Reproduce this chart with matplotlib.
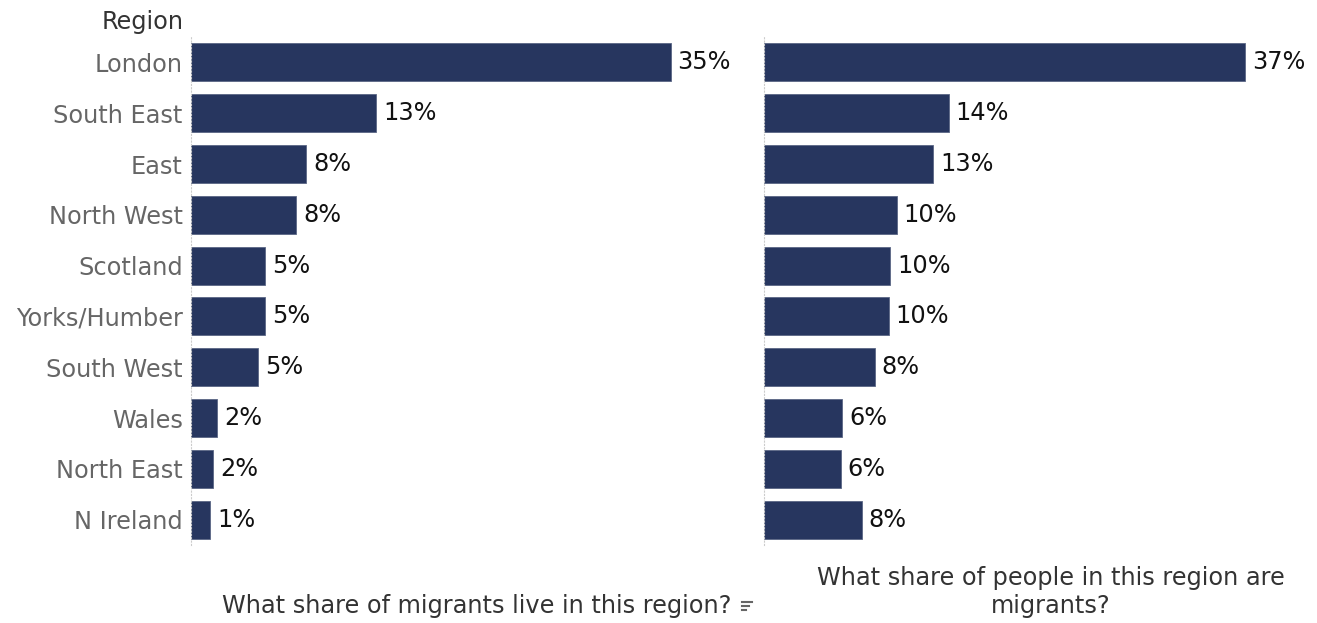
import numpy as np
import matplotlib
matplotlib.use("Agg")
import matplotlib.pyplot as plt
from matplotlib.lines import Line2D

# ----------------------------------------------------------------------
# data
# ----------------------------------------------------------------------
regions = ["London", "South East", "East", "North West", "Scotland",
           "Yorks/Humber", "South West", "Wales", "North East", "N Ireland"]
share_of_migrants = [35.0, 13.5, 8.4, 7.7, 5.4, 5.4, 4.9, 1.9, 1.6, 1.4]
share_label_left = ["35%", "13%", "8%", "8%", "5%", "5%", "5%", "2%", "2%", "1%"]
migrants_in_region = [37.0, 14.2, 13.0, 10.2, 9.7, 9.6, 8.5, 6.0, 5.9, 7.5]
share_label_right = ["37%", "14%", "13%", "10%", "10%", "10%", "8%", "6%", "6%", "8%"]

BAR = "#27365f"
W, H = 1317, 623
FS = 17.3

fig = plt.figure(figsize=(W / 100, H / 100), dpi=100)
plt.rcParams['font.family'] = ['DejaVu Sans']

def px_axes(x0, x1, y0, y1):
    return fig.add_axes([x0 / W, 1 - y1 / H, (x1 - x0) / W, (y1 - y0) / H])

ax_l = px_axes(191, 739, 37, 545)
ax_r = px_axes(764, 1310, 37, 545)

y = np.arange(len(regions))
for ax, vals, labels, xmax in [(ax_l, share_of_migrants, share_label_left, 40),
                               (ax_r, migrants_in_region, share_label_right, 42)]:
    ax.barh(y, vals, height=0.75, color=BAR, edgecolor="#5a6685", linewidth=0.6)
    for yi, v, lab in zip(y, vals, labels):
        ax.annotate(lab, (v, yi), xytext=(5, 0), textcoords="offset points",
                    va="center", ha="left", fontsize=FS, color="#111111")
    ax.set_xlim(0, xmax)
    ax.set_ylim(len(regions) - 0.5, -0.5)
    ax.set_xticks([])
    for s in ["top", "right", "bottom"]:
        ax.spines[s].set_visible(False)
    ax.spines["left"].set_linestyle((0, (1, 2)))
    ax.spines["left"].set_color("#cccccc")
    ax.spines["left"].set_linewidth(0.8)

ax_l.set_yticks(y)
ax_l.set_yticklabels(regions, fontsize=FS, color="#666666")
ax_l.tick_params(axis="y", length=0, pad=6)
ax_r.set_yticks([])

fig.text(184 / W, 1 - 22 / H, "Region", ha="right", va="center",
         fontsize=FS, color="#333333")
fig.text(477 / W, 1 - 606 / H, "What share of migrants live in this region?",
         ha="center", va="center", fontsize=FS, color="#333333")
fig.text(1051 / W, 1 - 592 / H, "What share of people in this region are\nmigrants?",
         ha="center", va="center", fontsize=FS, color="#333333", linespacing=1.2)

# small sort icon next to the left axis title
for i, wpx in enumerate([10, 7, 4]):
    yy = 1 - (602 + i * 4) / H
    fig.add_artist(Line2D([742 / W, (742 + wpx) / W], [yy, yy],
                          color="#666666", linewidth=1.5))

fig.savefig("out.png", dpi=100)
